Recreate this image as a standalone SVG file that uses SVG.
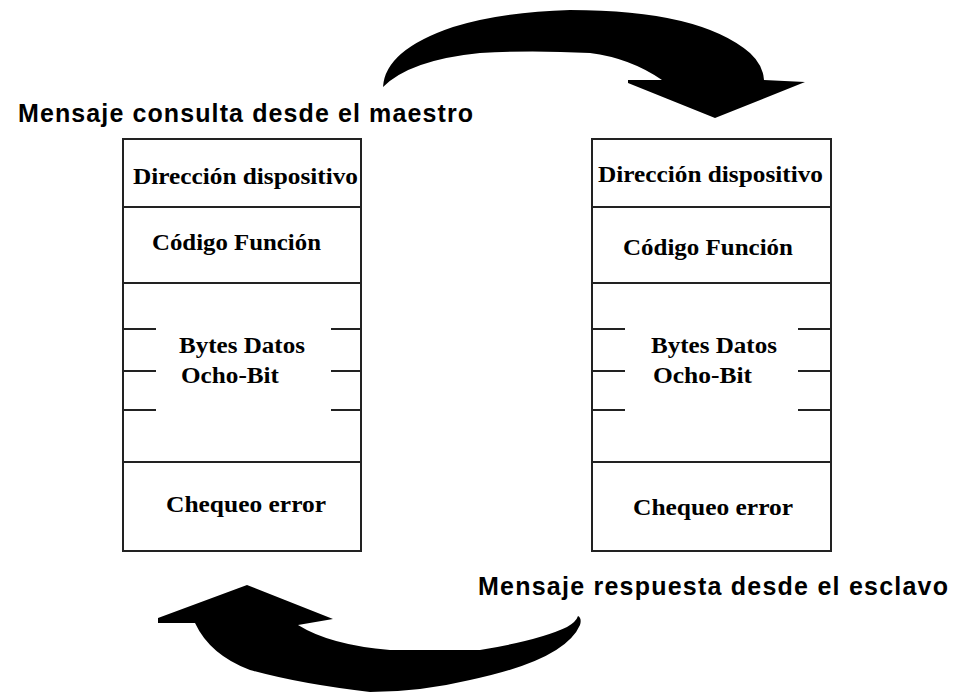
<svg xmlns="http://www.w3.org/2000/svg" width="953" height="692" viewBox="0 0 953 692">
<style>
.box{fill:#fff;stroke:#222;stroke-width:2}
.ln{stroke:#222;stroke-width:2;fill:none}
.lbl{font-family:"Liberation Serif","Times New Roman",serif;font-weight:bold;font-size:23px;fill:#000}
.ttl{font-family:"Liberation Sans",Arial,sans-serif;font-weight:bold;font-size:25px;fill:#000}
.arr{fill:#000}
</style>
<rect width="953" height="692" fill="#fff"/>
<g id="connectors">
<path class="arr" d="M383,87 Q385,50 453,27 Q500,12 570,10 Q700,10 750,53 Q763,65 764,80 L805,82 L715,118 L628,83 L628,80 L662,80 Q630,58 590,53 Q530,50 480,53 Q410,60 383,87 Z"/>
<path class="arr" d="M247,585 L333,619 L298,625 Q330,645 390,650 L480,650 Q540,640 567,627 Q576,622 578,616 Q582,618 580,625 Q565,660 470,680 Q420,692 370,692 Q300,684 250,670 Q210,655 195,623 L158,623 L158,618 Z"/>
</g>
<g id="title-master"><text class="ttl" x="18" y="122" textLength="455" lengthAdjust="spacing">Mensaje consulta desde el maestro</text></g>
<g id="title-slave"><text class="ttl" x="478" y="595" textLength="470" lengthAdjust="spacing">Mensaje respuesta desde el esclavo</text></g>
<g id="master-frame">
<rect class="box" x="123" y="139" width="238" height="412"/>
<line class="ln" x1="123" y1="207" x2="361" y2="207"/>
<line class="ln" x1="123" y1="283" x2="361" y2="283"/>
<line class="ln" x1="123" y1="462" x2="361" y2="462"/>
<line class="ln" x1="123" y1="329" x2="156" y2="329"/>
<line class="ln" x1="123" y1="371" x2="156" y2="371"/>
<line class="ln" x1="123" y1="410" x2="156" y2="410"/>
<line class="ln" x1="331" y1="329" x2="361" y2="329"/>
<line class="ln" x1="331" y1="371" x2="361" y2="371"/>
<line class="ln" x1="331" y1="410" x2="361" y2="410"/>
<text class="lbl" x="133" y="184" textLength="225" lengthAdjust="spacingAndGlyphs">Dirección dispositivo</text>
<text class="lbl" x="152" y="250" textLength="169" lengthAdjust="spacingAndGlyphs">Código Función</text>
<text class="lbl" x="179" y="353" textLength="126" lengthAdjust="spacingAndGlyphs">Bytes Datos</text>
<text class="lbl" x="181" y="383" textLength="98" lengthAdjust="spacingAndGlyphs">Ocho-Bit</text>
<text class="lbl" x="166" y="512" textLength="160" lengthAdjust="spacingAndGlyphs">Chequeo error</text>
</g>
<g id="slave-frame">
<rect class="box" x="592" y="139" width="239" height="412"/>
<line class="ln" x1="592" y1="207" x2="831" y2="207"/>
<line class="ln" x1="592" y1="283" x2="831" y2="283"/>
<line class="ln" x1="592" y1="462" x2="831" y2="462"/>
<line class="ln" x1="592" y1="329" x2="625" y2="329"/>
<line class="ln" x1="592" y1="371" x2="625" y2="371"/>
<line class="ln" x1="592" y1="410" x2="625" y2="410"/>
<line class="ln" x1="798" y1="329" x2="831" y2="329"/>
<line class="ln" x1="798" y1="371" x2="831" y2="371"/>
<line class="ln" x1="798" y1="410" x2="831" y2="410"/>
<text class="lbl" x="598" y="182" textLength="225" lengthAdjust="spacingAndGlyphs">Dirección dispositivo</text>
<text class="lbl" x="623" y="255" textLength="170" lengthAdjust="spacingAndGlyphs">Código Función</text>
<text class="lbl" x="651" y="353" textLength="126" lengthAdjust="spacingAndGlyphs">Bytes Datos</text>
<text class="lbl" x="653" y="383" textLength="99" lengthAdjust="spacingAndGlyphs">Ocho-Bit</text>
<text class="lbl" x="633" y="515" textLength="160" lengthAdjust="spacingAndGlyphs">Chequeo error</text>
</g>
</svg>
